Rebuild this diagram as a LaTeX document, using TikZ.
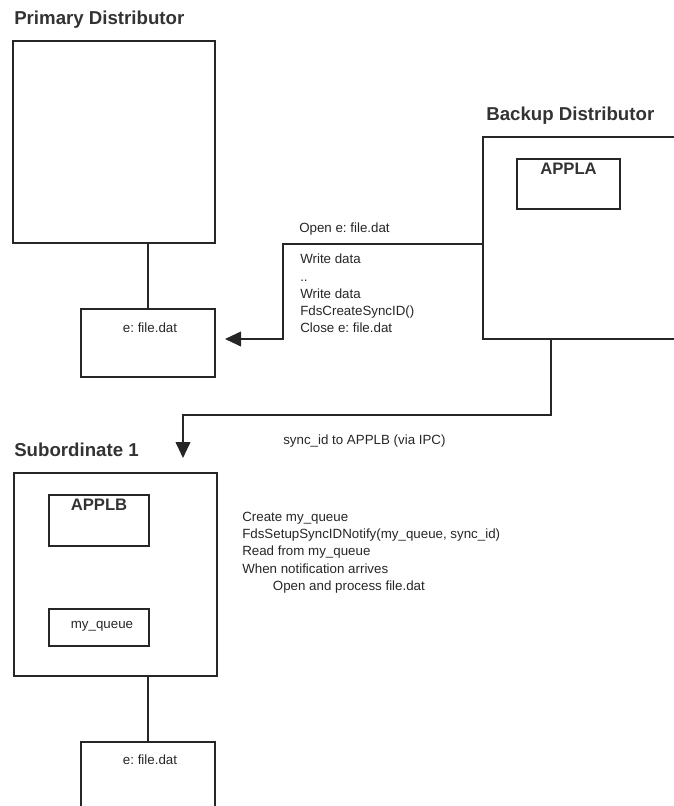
\documentclass[tikz,border=0pt]{standalone}
\usepackage{fontspec}
\setsansfont{Liberation Sans}
\usetikzlibrary{arrows.meta, calc, positioning}
\frenchspacing

\tikzset{
    box/.style={draw=black!85, line width=1.4pt, rectangle, inner sep=0pt, outer sep=0pt},
    sized/.style 2 args={minimum width=#1*0.75pt, minimum height=#2*0.75pt},
    flow/.style={draw=black!85, line width=1.4pt},
    arrowflow/.style={flow, -{Triangle[length=12pt, width=11pt]}},
    titolo/.style={font=\sffamily\bfseries\fontsize{14}{16}\selectfont, text=black!80, inner sep=0pt, anchor=base west},
    appname/.style={font=\sffamily\bfseries\fontsize{12.5}{14}\selectfont, text=black!80, inner sep=0pt, anchor=north},
    testo/.style={font=\sffamily\fontsize{10}{12.9}\selectfont, text=black!85, inner sep=0pt, align=left}
}

\begin{document}
\begin{tikzpicture}[font=\sffamily, x=0.75pt, y=-0.75pt]
    % ==========================================
    % AREA DEL DISEGNO (pixel, asse y verso il basso)
    % ==========================================
    \clip (0,0) rectangle (674,806);

    % ==========================================
    % TITOLI DEI NODI
    % ==========================================
    \node [titolo] (primT) at (14,25) {Primary Distributor};
    \node [titolo] (backT) at (486,121) {Backup Distributor};
    \node [titolo] (subT) at (14,456) {Subordinate 1};

    % ==========================================
    % BLOCCHI
    % ==========================================
    % Primary distributor e il suo file
    \node [box, sized={202}{202}] (prim) at (114,142) {};
    \node [box, sized={134}{68}] (pfile) at (148,343) {};
    \node [testo, anchor=base] (pfileT) at ($(pfile.north)+(2,23)$) {e: file.dat};

    % Backup distributor (esce dal bordo destro)
    \node [box, sized={210}{202}] (backup) at (588,238) {};
    \node [box, sized={103}{50}] (appla) at (568.5,184) {};
    \node [appname] (applaT) at ([yshift=-3pt]appla.north) {APPLA};

    % Subordinate 1 con APPLB e la coda
    \node [box, sized={203}{203}] (sub) at (115.5,574.5) {};
    \node [box, sized={100}{51}] (applb) at (99,520.5) {};
    \node [appname] (applbT) at ([yshift=-3pt]applb.north) {APPLB};
    \node [box, sized={100}{37}] (queue) at (99,627.5) {};
    \node [testo] (queueT) at ($(queue.center)+(3,-1)$) {my\_queue};

    % File del subordinate (tagliato in basso)
    \node [box, sized={134}{68}] (sfile) at (148,776) {};
    \node [testo, anchor=base] (sfileT) at ($(sfile.north)+(2,22)$) {e: file.dat};

    % ==========================================
    % COLLEGAMENTI
    % ==========================================
    \draw [flow] (prim.south -| pfile.north) -- (pfile.north);
    \draw [flow] (sub.south -| sfile.north) -- (sfile.north);

    % Scrittura del file dal backup verso il primary
    \coordinate (wbend) at (283,244);
    \coordinate (wend) at (225,339);
    \draw [arrowflow] (backup.west |- wbend) -- (wbend) |- (wend);

    % sync_id verso APPLB
    \coordinate (ipcR) at (551,415);
    \coordinate (ipcL) at (183,415);
    \coordinate (ipcEnd) at (183,458);
    \draw [arrowflow] (backup.south -| ipcR) -- (ipcR) -- (ipcL) -- (ipcEnd);

    % ==========================================
    % TESTI DELLE SEQUENZE
    % ==========================================
    \node [testo, anchor=base west] (openT) at (299,232.5) {Open e: file.dat};
    \node [testo, anchor=north west] (writeT) at (300,254) {
        Write data\\..\\Write data\\FdsCreateSyncID()\\Close e: file.dat};

    \node [testo, anchor=base west] (syncT) at (283,444) {sync\_id to APPLB (via IPC)};

    \node [testo, anchor=north west] (notifyT) at (242,512) {
        Create my\_queue\\FdsSetupSyncIDNotify(my\_queue, sync\_id)\\Read from my\_queue\\
        When notification arrives\\\hspace*{23pt}Open and process file.dat};

\end{tikzpicture}
\end{document}
